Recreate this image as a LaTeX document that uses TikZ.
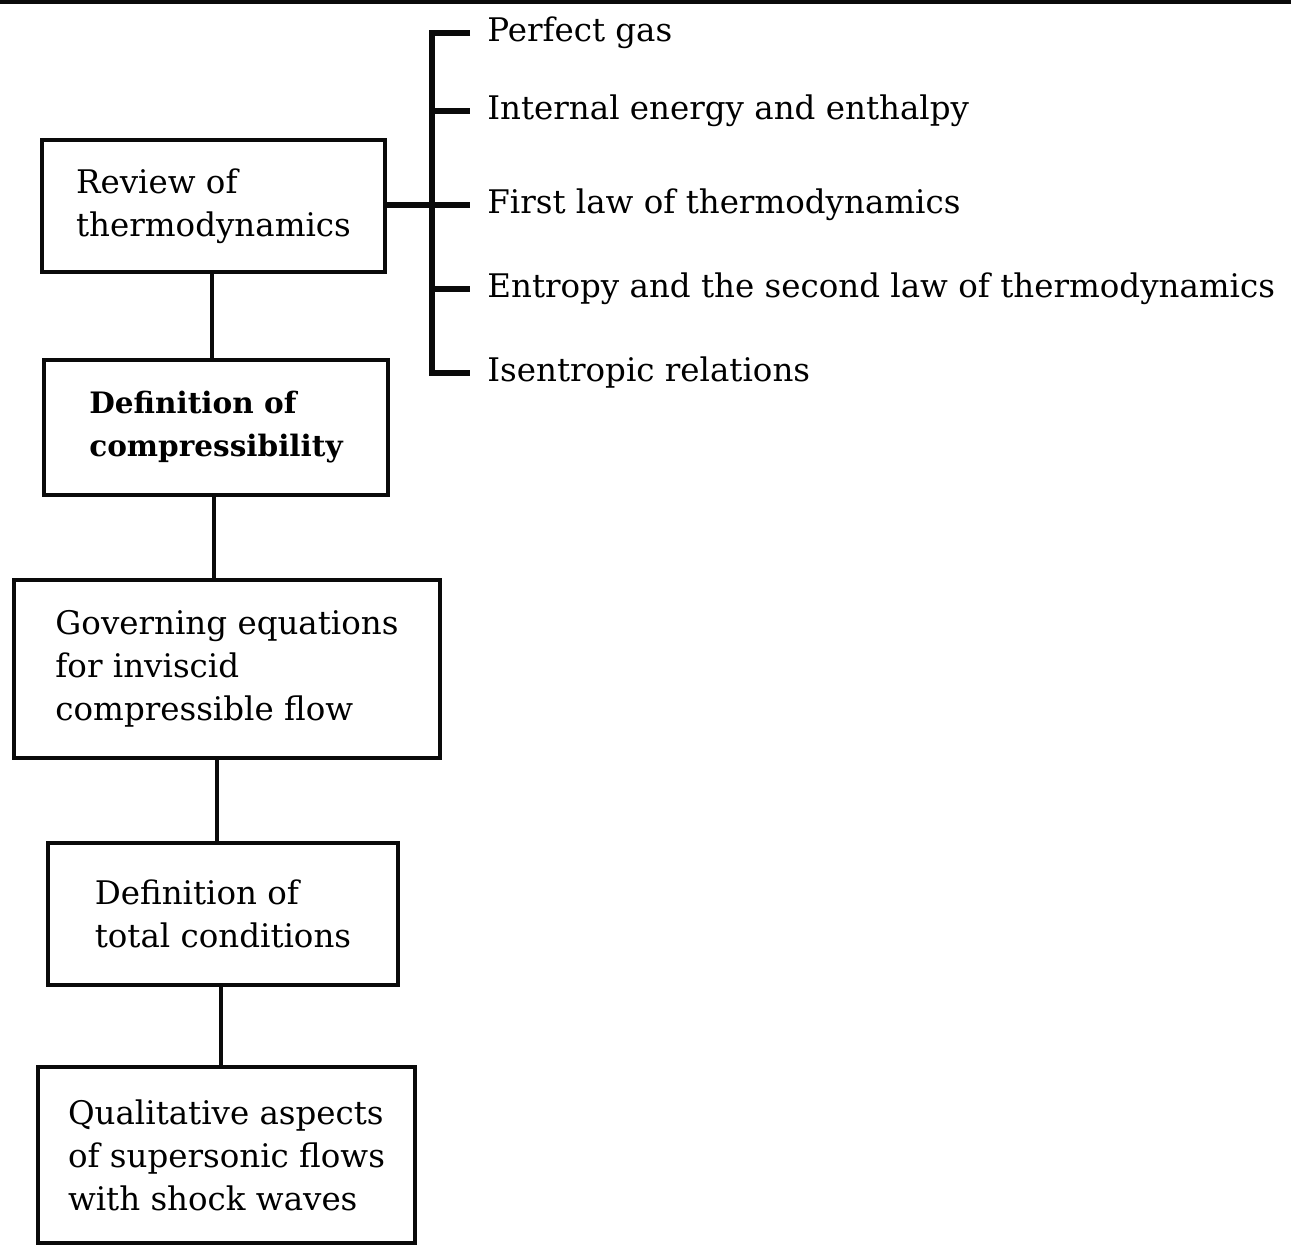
\documentclass[tikz,border=0pt]{standalone}
\usepackage{fontspec}
\usepackage{xcolor}
\setmainfont{DejaVu Serif}
\definecolor{inkblack}{RGB}{10,10,10}
\newcommand{\chartfont}{\fontsize{18.5}{24.5}\selectfont}

\begin{document}
\begin{tikzpicture}[
    x=0.02cm, y=-0.02cm,
    stagebox/.style={draw=inkblack, line width=2.2pt, align=left, font=\chartfont, inner sep=0pt},
    topicitem/.style={anchor=west, font=\chartfont, inner xsep=0.34cm, inner ysep=0pt},
    link/.style={draw=inkblack, line width=2.8pt},
    brace/.style={draw=inkblack, line width=3pt}
]

% Page frame
\useasboundingbox (0,0) rectangle (1291,1246);
\fill[inkblack] (0,0) rectangle (1291,4);

% Main chain of stages
\node[stagebox, minimum width=6.86cm, minimum height=2.64cm] (review) at (213.5,206) {Review of\\thermodynamics};
\node[stagebox, minimum width=6.88cm, minimum height=2.70cm, font=\fontsize{16.8}{24.5}\selectfont\bfseries] (defcomp) at (216,427.5) {Definition of\\compressibility};
\node[stagebox, minimum width=8.52cm, minimum height=3.56cm] (govern) at (227,669) {Governing equations\\for inviscid\\compressible flow};
\node[stagebox, minimum width=7.00cm, minimum height=2.84cm] (total) at (223,914) {Definition of\\total conditions};
\node[stagebox, minimum width=7.54cm, minimum height=3.52cm] (quali) at (226.5,1155) {Qualitative aspects\\of supersonic flows\\with shock waves};

% Links between stages
\draw[link] (212,0 |- review.south) -- (212,0 |- defcomp.north);
\draw[link] (214,0 |- defcomp.south) -- (214,0 |- govern.north);
\draw[link] (217,0 |- govern.south) -- (217,0 |- total.north);
\draw[link] (221,0 |- total.south) -- (221,0 |- quali.north);

% Topics of the thermodynamics review
\coordinate (spine) at (432,205);
\node[topicitem] (gas) at (470,33) {Perfect gas};
\node[topicitem] (energy) at (470,111) {Internal energy and enthalpy};
\node[topicitem] (firstlaw) at (470,205) {First law of thermodynamics};
\node[topicitem] (entropy) at (470,289) {Entropy and the second law of thermodynamics};
\node[topicitem] (isen) at (470,373) {Isentropic relations};

% Bracket
\draw[brace] (review.east |- spine) -- (spine -| firstlaw.west);
\draw[brace] (gas.west) -| (spine |- isen.west) -- (isen.west);
\draw[brace] (spine |- energy.west) -- (energy.west);
\draw[brace] (spine |- entropy.west) -- (entropy.west);

\end{tikzpicture}
\end{document}
